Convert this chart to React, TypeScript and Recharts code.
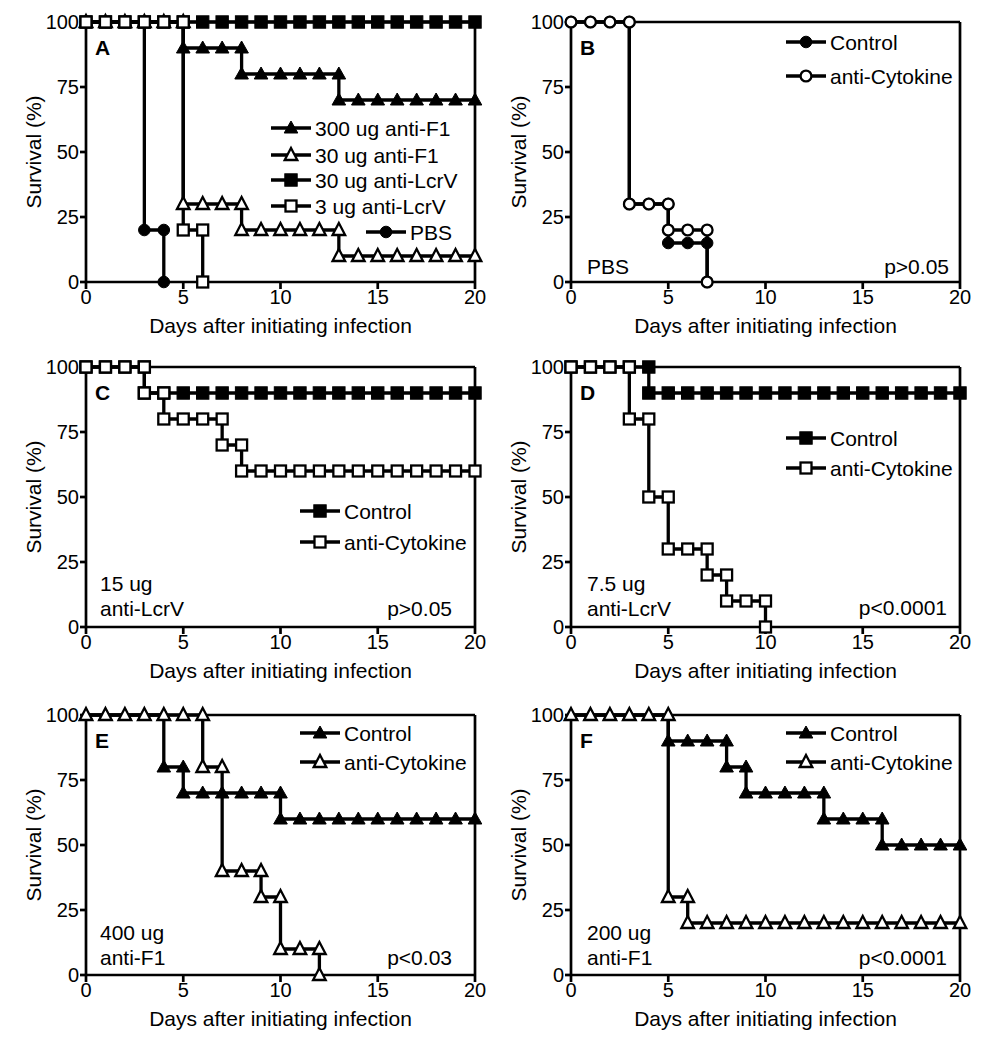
import React from 'react'
import { LineChart, Line, XAxis, YAxis, ReferenceLine } from 'recharts'

// survival (%) read per day, index = day after infection; series stop at the day they hit 0
const xTicks = [0, 5, 10, 15, 20]
const yTicks = [0, 25, 50, 75, 100]

const a300F1 = [100, 100, 100, 100, 100, 90, 90, 90, 80, 80, 80, 80, 80, 70, 70, 70, 70, 70, 70, 70, 70]
const a30F1 = [100, 100, 100, 100, 100, 30, 30, 30, 20, 20, 20, 20, 20, 10, 10, 10, 10, 10, 10, 10, 10]
const a30LcrV = [100, 100, 100, 100, 100, 100, 100, 100, 100, 100, 100, 100, 100, 100, 100, 100, 100, 100, 100, 100, 100]
const a3LcrV = [100, 100, 100, 100, 100, 20, 0]
const aPBS = [100, 100, 100, 20, 0]

const bControl = [100, 100, 100, 30, 30, 15, 15, 0]
const bAntiCytokine = [100, 100, 100, 30, 30, 20, 20, 0]

const cControl = [100, 100, 100, 90, 90, 90, 90, 90, 90, 90, 90, 90, 90, 90, 90, 90, 90, 90, 90, 90, 90]
const cAntiCytokine = [100, 100, 100, 90, 80, 80, 80, 70, 60, 60, 60, 60, 60, 60, 60, 60, 60, 60, 60, 60, 60]

const dControl = [100, 100, 100, 100, 90, 90, 90, 90, 90, 90, 90, 90, 90, 90, 90, 90, 90, 90, 90, 90, 90]
const dAntiCytokine = [100, 100, 100, 80, 50, 30, 30, 20, 10, 10, 0]

const eControl = [100, 100, 100, 100, 80, 70, 70, 70, 70, 70, 60, 60, 60, 60, 60, 60, 60, 60, 60, 60, 60]
const eAntiCytokine = [100, 100, 100, 100, 100, 100, 80, 40, 40, 30, 10, 10, 0]

const fControl = [100, 100, 100, 100, 100, 90, 90, 90, 80, 70, 70, 70, 70, 60, 60, 60, 50, 50, 50, 50, 50]
const fAntiCytokine = [100, 100, 100, 100, 100, 30, 20, 20, 20, 20, 20, 20, 20, 20, 20, 20, 20, 20, 20, 20, 20]

type Shape = 'tri' | 'square' | 'circle'

// Kaplan-Meier style: add the corner point at the old level on each drop day
const toSteps = (values: number[]) => {
  const pts: { day: number; s: number }[] = []
  values.forEach((v, day) => {
    if (day > 0 && values[day - 1] !== v) pts.push({ day, s: values[day - 1] })
    pts.push({ day, s: v })
  })
  return pts
}

const Marker = ({ cx, cy, shape, filled }: { cx: number; cy: number; shape: Shape; filled: boolean }) => {
  const fill = filled ? '#000' : '#fff'
  const sw = filled ? 1 : 2.3
  if (shape === 'square') {
    const h = filled ? 6.2 : 5.5
    return <rect x={cx - h} y={cy - h} width={h * 2} height={h * 2} fill={fill} stroke="#000" strokeWidth={sw} />
  }
  if (shape === 'circle') {
    return <circle cx={cx} cy={cy} r={filled ? 5.8 : 5.4} fill={fill} stroke="#000" strokeWidth={sw} />
  }
  const hw = filled ? 6.8 : 6.3
  return (
    <polygon
      points={`${cx},${cy - 7} ${cx + hw},${cy + 5} ${cx - hw},${cy + 5}`}
      fill={fill}
      stroke="#000"
      strokeWidth={sw}
      strokeLinejoin="miter"
    />
  )
}

interface Series {
  name: string
  values: number[]
  shape: Shape
  filled: boolean
}

interface PanelProps {
  letter: string
  left: number
  top: number
  series: Series[] // drawn in this order, last on top
  legend: { name: string; shape: Shape; filled: boolean; x: number; y: number }[]
  notes: { text: string; x: number; y: number; anchor: 'start' | 'end' }[]
}

const W = 490
const H = 345
const PLOT_L = 86
const PLOT_T = 22
const PLOT_R = 475
const PLOT_B = 282

const Panel: React.FC<PanelProps> = ({ letter, left, top, series, legend, notes }) => (
  <div style={{ position: 'absolute', left, top, width: W, height: H }}>
    <LineChart width={W} height={H} margin={{ top: PLOT_T, right: W - PLOT_R, bottom: 0, left: 0 }}>
      <XAxis
        type="number"
        dataKey="day"
        domain={[0, 20]}
        ticks={xTicks}
        height={H - PLOT_B}
        tickSize={7}
        tickMargin={1}
        tick={{ fill: '#000', fontSize: 20 }}
        axisLine={{ stroke: '#000', strokeWidth: 2.7 }}
        tickLine={{ stroke: '#000', strokeWidth: 2.7 }}
      />
      <YAxis
        type="number"
        domain={[0, 100]}
        ticks={yTicks}
        width={PLOT_L}
        tickSize={6}
        tickMargin={1}
        tick={{ fill: '#000', fontSize: 20 }}
        axisLine={{ stroke: '#000', strokeWidth: 2.7 }}
        tickLine={{ stroke: '#000', strokeWidth: 2.7 }}
      />
      <ReferenceLine y={100} stroke="#000" strokeWidth={2.7} />
      <ReferenceLine x={20} stroke="#000" strokeWidth={2.7} />
      {series.map((s) => (
        <Line
          key={s.name}
          data={toSteps(s.values)}
          dataKey="s"
          type="linear"
          stroke="#000"
          strokeWidth={3.3}
          strokeLinejoin="miter"
          activeDot={false}
          isAnimationActive={false}
          dot={(p: any) => (
            <Marker key={`${s.name}-${p.index}`} cx={p.cx} cy={p.cy} shape={s.shape} filled={s.filled} />
          )}
        />
      ))}
    </LineChart>
    <svg
      width={W}
      height={H}
      style={{ position: 'absolute', left: 0, top: 0, pointerEvents: 'none' }}
      fontFamily="'Liberation Sans', Arial, sans-serif"
    >
      <text x={PLOT_L + 9} y={PLOT_T + 25} dy="0.36em" fontSize={21} fontWeight="bold">
        {letter}
      </text>
      <text
        x={33}
        y={(PLOT_T + PLOT_B) / 2}
        dy="0.36em"
        fontSize={21}
        textAnchor="middle"
        transform={`rotate(-90, 33, ${(PLOT_T + PLOT_B) / 2})`}
      >
        Survival (%)
      </text>
      <text x={(PLOT_L + PLOT_R) / 2} y={325} dy="0.36em" fontSize={21} textAnchor="middle">
        Days after initiating infection
      </text>
      {legend.map((l) => (
        <g key={l.name}>
          <line x1={l.x} x2={l.x + 40} y1={l.y} y2={l.y} stroke="#000" strokeWidth={3.3} />
          <Marker cx={l.x + 20} cy={l.y} shape={l.shape} filled={l.filled} />
          <text x={l.x + 44} y={l.y} dy="0.36em" fontSize={21}>
            {l.name}
          </text>
        </g>
      ))}
      {notes.map((n) => (
        <text key={n.text + n.y} x={n.x} y={n.y} dy="0.36em" fontSize={21} textAnchor={n.anchor}>
          {n.text}
        </text>
      ))}
    </svg>
  </div>
)

const ctl = 'Control'
const anti = 'anti-Cytokine'

export default function App() {
  return (
    <div
      style={{
        position: 'absolute',
        left: 0,
        top: 0,
        width: 982,
        height: 1050,
        background: '#fff',
        fontFamily: "'Liberation Sans', Arial, sans-serif",
      }}
    >
      <Panel
        letter="A"
        left={0}
        top={0}
        series={[
          { name: '30 ug anti-LcrV', values: a30LcrV, shape: 'square', filled: true },
          { name: '300 ug anti-F1', values: a300F1, shape: 'tri', filled: true },
          { name: '30 ug anti-F1', values: a30F1, shape: 'tri', filled: false },
          { name: 'PBS', values: aPBS, shape: 'circle', filled: true },
          { name: '3 ug anti-LcrV', values: a3LcrV, shape: 'square', filled: false },
        ]}
        legend={[
          { name: '300 ug anti-F1', shape: 'tri', filled: true, x: 271, y: 128 },
          { name: '30 ug anti-F1', shape: 'tri', filled: false, x: 271, y: 155 },
          { name: '30 ug anti-LcrV', shape: 'square', filled: true, x: 271, y: 180 },
          { name: '3 ug anti-LcrV', shape: 'square', filled: false, x: 271, y: 206 },
          { name: 'PBS', shape: 'circle', filled: true, x: 366, y: 232 },
        ]}
        notes={[]}
      />
      <Panel
        letter="B"
        left={485}
        top={0}
        series={[
          { name: ctl, values: bControl, shape: 'circle', filled: true },
          { name: anti, values: bAntiCytokine, shape: 'circle', filled: false },
        ]}
        legend={[
          { name: ctl, shape: 'circle', filled: true, x: 301, y: 42 },
          { name: anti, shape: 'circle', filled: false, x: 301, y: 76 },
        ]}
        notes={[
          { text: 'PBS', x: 102, y: 266, anchor: 'start' },
          { text: 'p>0.05', x: 464, y: 266, anchor: 'end' },
        ]}
      />
      <Panel
        letter="C"
        left={0}
        top={345}
        series={[
          { name: ctl, values: cControl, shape: 'square', filled: true },
          { name: anti, values: cAntiCytokine, shape: 'square', filled: false },
        ]}
        legend={[
          { name: ctl, shape: 'square', filled: true, x: 300, y: 166 },
          { name: anti, shape: 'square', filled: false, x: 300, y: 197 },
        ]}
        notes={[
          { text: '15 ug', x: 100, y: 238, anchor: 'start' },
          { text: 'anti-LcrV', x: 100, y: 263, anchor: 'start' },
          { text: 'p>0.05', x: 452, y: 263, anchor: 'end' },
        ]}
      />
      <Panel
        letter="D"
        left={485}
        top={345}
        series={[
          { name: ctl, values: dControl, shape: 'square', filled: true },
          { name: anti, values: dAntiCytokine, shape: 'square', filled: false },
        ]}
        legend={[
          { name: ctl, shape: 'square', filled: true, x: 301, y: 93 },
          { name: anti, shape: 'square', filled: false, x: 301, y: 123 },
        ]}
        notes={[
          { text: '7.5 ug', x: 102, y: 238, anchor: 'start' },
          { text: 'anti-LcrV', x: 102, y: 263, anchor: 'start' },
          { text: 'p<0.0001', x: 462, y: 262, anchor: 'end' },
        ]}
      />
      <Panel
        letter="E"
        left={0}
        top={693}
        series={[
          { name: ctl, values: eControl, shape: 'tri', filled: true },
          { name: anti, values: eAntiCytokine, shape: 'tri', filled: false },
        ]}
        legend={[
          { name: ctl, shape: 'tri', filled: true, x: 300, y: 40 },
          { name: anti, shape: 'tri', filled: false, x: 300, y: 69 },
        ]}
        notes={[
          { text: '400 ug', x: 100, y: 239, anchor: 'start' },
          { text: 'anti-F1', x: 100, y: 264, anchor: 'start' },
          { text: 'p<0.03', x: 452, y: 264, anchor: 'end' },
        ]}
      />
      <Panel
        letter="F"
        left={485}
        top={693}
        series={[
          { name: ctl, values: fControl, shape: 'tri', filled: true },
          { name: anti, values: fAntiCytokine, shape: 'tri', filled: false },
        ]}
        legend={[
          { name: ctl, shape: 'tri', filled: true, x: 301, y: 40 },
          { name: anti, shape: 'tri', filled: false, x: 301, y: 69 },
        ]}
        notes={[
          { text: '200 ug', x: 102, y: 239, anchor: 'start' },
          { text: 'anti-F1', x: 102, y: 264, anchor: 'start' },
          { text: 'p<0.0001', x: 462, y: 264, anchor: 'end' },
        ]}
      />
    </div>
  )
}
